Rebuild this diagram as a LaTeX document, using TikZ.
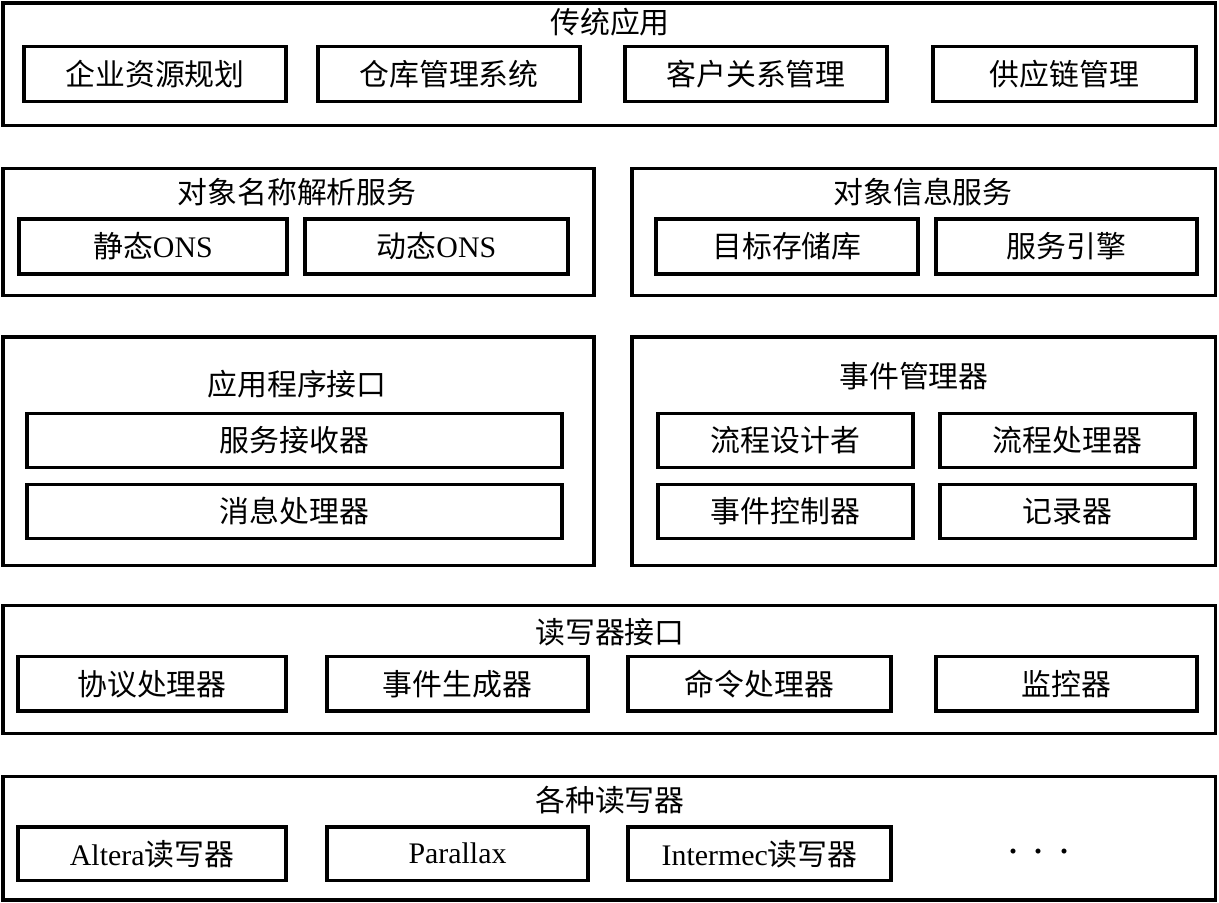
\documentclass[tikz,border=0pt]{standalone}
\usepackage{fontspec}
\setmainfont{Liberation Serif}
\newfontfamily\cjk{Noto Sans CJK SC}
\usetikzlibrary{fit}

\begin{document}
\begin{tikzpicture}[x=0.02cm, y=-0.02cm,
  every node/.style={font=\fontsize{17}{20}\selectfont\cjk},
  every label/.style={inner sep=0pt},
  outbox/.style={draw, line width=2pt, inner sep=0pt},
  inbox/.style={draw, line width=2pt, inner sep=0pt},
  title/.style={inner sep=0pt}]
  \useasboundingbox (0,0) rectangle (1219,902);
  % traditional applications
  \node[outbox, fit={(3,3) (1215.5,125.5)}] (apps) {};
  \node[title] (appsT) at (610,22) {传统应用};
  \node[inbox, fit={(24,46.5) (286,101.5)}, label=center:企业资源规划] (erp) {};
  \node[inbox, fit={(318,46.5) (580,101.5)}, label=center:仓库管理系统] (wms) {};
  \node[inbox, fit={(625,46.5) (887,101.5)}, label=center:客户关系管理] (crm) {};
  \node[inbox, fit={(933,46.5) (1196,101.5)}, label=center:供应链管理] (scm) {};
  % ONS
  \node[outbox, fit={(3,168.5) (594,295.5)}] (ons) {};
  \node[title] (onsT) at (297,192) {对象名称解析服务};
  \node[inbox, fit={(19,219) (287,274)}, label={center:静态{\rmfamily ONS}}] (sons) {};
  \node[inbox, fit={(305,219) (568,274)}, label={center:动态{\rmfamily ONS}}] (dons) {};
  % object information service
  \node[outbox, fit={(632,168.5) (1215.5,295.5)}] (ois) {};
  \node[title] (oisT) at (923,192) {对象信息服务};
  \node[inbox, fit={(656,219) (918,274)}, label=center:目标存储库] (repo) {};
  \node[inbox, fit={(936,219) (1197,274)}, label=center:服务引擎] (engine) {};
  % application interface
  \node[outbox, fit={(3,337) (594,565.5)}] (api) {};
  \node[title] (apiT) at (297,384) {应用程序接口};
  \node[inbox, fit={(27,413.5) (562,467.5)}, label=center:服务接收器] (recv) {};
  \node[inbox, fit={(27,484.5) (562,538.5)}, label=center:消息处理器] (msg) {};
  % event manager
  \node[outbox, fit={(632,337) (1215.5,565.5)}] (evm) {};
  \node[title] (evmT) at (914,376) {事件管理器};
  \node[inbox, fit={(658,413.5) (913,467.5)}, label=center:流程设计者] (design) {};
  \node[inbox, fit={(940,413.5) (1195,467.5)}, label=center:流程处理器] (flow) {};
  \node[inbox, fit={(658,484.5) (913,538.5)}, label=center:事件控制器] (ctrl) {};
  \node[inbox, fit={(940,484.5) (1195,538.5)}, label=center:记录器] (logger) {};
  % reader interface
  \node[outbox, fit={(3,605.5) (1215.5,733.5)}] (rif) {};
  \node[title] (rifT) at (610,632) {读写器接口};
  \node[inbox, fit={(18,656.5) (286,711)}, label=center:协议处理器] (proto) {};
  \node[inbox, fit={(327,656.5) (588,711)}, label=center:事件生成器] (gen) {};
  \node[inbox, fit={(628,656.5) (891,711)}, label=center:命令处理器] (cmd) {};
  \node[inbox, fit={(936,656.5) (1197,711)}, label=center:监控器] (mon) {};
  % readers
  \node[outbox, fit={(3,776.5) (1215.5,900)}] (rd) {};
  \node[title] (rdT) at (610,800) {各种读写器};
  \node[inbox, fit={(18,827) (286,880.5)}, label={center:{\rmfamily Altera}读写器}] (altera) {};
  \node[inbox, fit={(327,827) (588,880.5)}, label={center:\rmfamily Parallax}] (parallax) {};
  \node[inbox, fit={(628,827) (891,880.5)}, label={center:{\rmfamily Intermec}读写器}] (intermec) {};
  \node[title, font=\fontsize{24}{26}\selectfont\rmfamily] (more) at (1039,857) {·\hspace{6.75pt}·\hspace{6.75pt}·};
\end{tikzpicture}
\end{document}
